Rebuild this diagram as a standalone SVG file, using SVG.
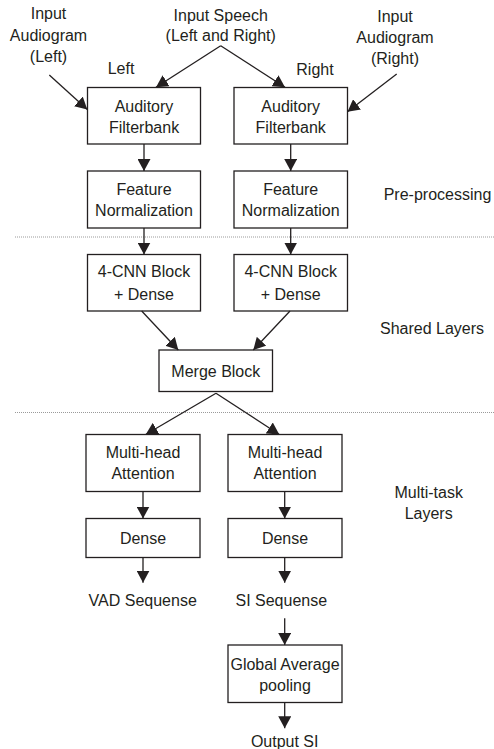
<svg xmlns="http://www.w3.org/2000/svg" width="494" height="749" viewBox="0 0 494 749">
<style>
  text { font-family: "Liberation Sans", Arial, sans-serif; font-size: 16px; fill: #231f20; text-anchor: middle; }
  .box { fill: #ffffff; stroke: #231f20; stroke-width: 1.3; }
  .conn { stroke: #231f20; stroke-width: 1.3; fill: none; marker-end: url(#arr); }
  .sep { stroke: #9a9a9a; stroke-width: 1; stroke-dasharray: 1 1; fill: none; }
</style>
<defs>
  <marker id="arr" viewBox="0 0 12 13" refX="12" refY="6.5" markerWidth="12" markerHeight="13" orient="auto" markerUnits="userSpaceOnUse">
    <path d="M0,0 L12,6.5 L0,13 Z" fill="#231f20"/>
  </marker>
</defs>
<rect width="494" height="749" fill="#ffffff"/>

<g id="separators">
  <line class="sep" x1="15" y1="237" x2="494" y2="237"/>
  <line class="sep" x1="15" y1="412.5" x2="494" y2="412.5"/>
</g>

<g id="labels">
  <text x="48.5" y="19">Input</text>
  <text x="48.5" y="40.5">Audiogram</text>
  <text x="48.5" y="61.5">(Left)</text>
  <text x="220.7" y="20.5">Input Speech</text>
  <text x="220.7" y="41">(Left and Right)</text>
  <text x="395" y="22">Input</text>
  <text x="395" y="43">Audiogram</text>
  <text x="395" y="64">(Right)</text>
  <text x="121" y="74">Left</text>
  <text x="315" y="74.5">Right</text>
  <text x="437.5" y="200">Pre-processing</text>
  <text x="432" y="333.5">Shared Layers</text>
  <text x="428.7" y="497.7">Multi-task</text>
  <text x="428.7" y="518.5">Layers</text>
  <text x="142.7" y="606">VAD Sequense</text>
  <text x="281.3" y="606">SI Sequense</text>
  <text x="284.7" y="747">Output SI</text>
</g>

<g id="afL">
  <rect class="box" x="87.5" y="87.5" width="113" height="56.5"/>
  <text x="144" y="111.7">Auditory</text>
  <text x="144" y="132.5">Filterbank</text>
</g>
<g id="afR">
  <rect class="box" x="234" y="87.5" width="113.5" height="56.5"/>
  <text x="290.7" y="111.7">Auditory</text>
  <text x="290.7" y="132.5">Filterbank</text>
</g>
<g id="fnL">
  <rect class="box" x="87.5" y="171" width="113" height="57"/>
  <text x="144" y="195">Feature</text>
  <text x="144" y="215.7">Normalization</text>
</g>
<g id="fnR">
  <rect class="box" x="234" y="171" width="113.5" height="57"/>
  <text x="290.7" y="195">Feature</text>
  <text x="290.7" y="215.7">Normalization</text>
</g>
<g id="cnnL">
  <rect class="box" x="87.5" y="254.5" width="113" height="56.5"/>
  <text x="144" y="277.3">4-CNN Block</text>
  <text x="144" y="299.5">+ Dense</text>
</g>
<g id="cnnR">
  <rect class="box" x="234" y="254.5" width="113.5" height="56.5"/>
  <text x="290.7" y="277.3">4-CNN Block</text>
  <text x="290.7" y="299.5">+ Dense</text>
</g>
<g id="merge">
  <rect class="box" x="159" y="350" width="113.5" height="41.5"/>
  <text x="215.8" y="377.3">Merge Block</text>
</g>
<g id="mhaL">
  <rect class="box" x="86" y="434.5" width="114" height="57"/>
  <text x="143" y="458.3">Multi-head</text>
  <text x="143" y="479">Attention</text>
</g>
<g id="mhaR">
  <rect class="box" x="228" y="434.5" width="114" height="57"/>
  <text x="285" y="458.3">Multi-head</text>
  <text x="285" y="479">Attention</text>
</g>
<g id="denseL">
  <rect class="box" x="86" y="518.5" width="114" height="39"/>
  <text x="143" y="544">Dense</text>
</g>
<g id="denseR">
  <rect class="box" x="228" y="518.5" width="114" height="39"/>
  <text x="285" y="544">Dense</text>
</g>
<g id="gap">
  <rect class="box" x="228" y="645" width="114" height="57.5"/>
  <text x="285" y="670">Global Average</text>
  <text x="285" y="691">pooling</text>
</g>

<g id="connectors">
  <line class="conn" x1="49.3" y1="75" x2="87.3" y2="109.5"/>
  <line class="conn" x1="396.7" y1="74" x2="347.5" y2="111.7"/>
  <line class="conn" x1="220.7" y1="45.7" x2="156" y2="87.3"/>
  <line class="conn" x1="220.7" y1="45.7" x2="285" y2="87.3"/>
  <line class="conn" x1="144" y1="144" x2="144" y2="171"/>
  <line class="conn" x1="290.7" y1="144" x2="290.7" y2="171"/>
  <line class="conn" x1="144" y1="228" x2="144" y2="254.5"/>
  <line class="conn" x1="290.7" y1="228" x2="290.7" y2="254.5"/>
  <line class="conn" x1="141.7" y1="311" x2="178.3" y2="350"/>
  <line class="conn" x1="290" y1="311" x2="253.3" y2="350"/>
  <line class="conn" x1="216" y1="393.3" x2="145.7" y2="434.5"/>
  <line class="conn" x1="216" y1="393.3" x2="279.3" y2="434.5"/>
  <line class="conn" x1="143" y1="491.5" x2="143" y2="518.5"/>
  <line class="conn" x1="284.7" y1="491.5" x2="284.7" y2="518.5"/>
  <line class="conn" x1="143" y1="557.5" x2="143" y2="582.7"/>
  <line class="conn" x1="284.7" y1="557.5" x2="284.7" y2="582.7"/>
  <line class="conn" x1="284.7" y1="618.3" x2="284.7" y2="645"/>
  <line class="conn" x1="284.7" y1="702.5" x2="284.7" y2="728.3"/>
</g>
</svg>
